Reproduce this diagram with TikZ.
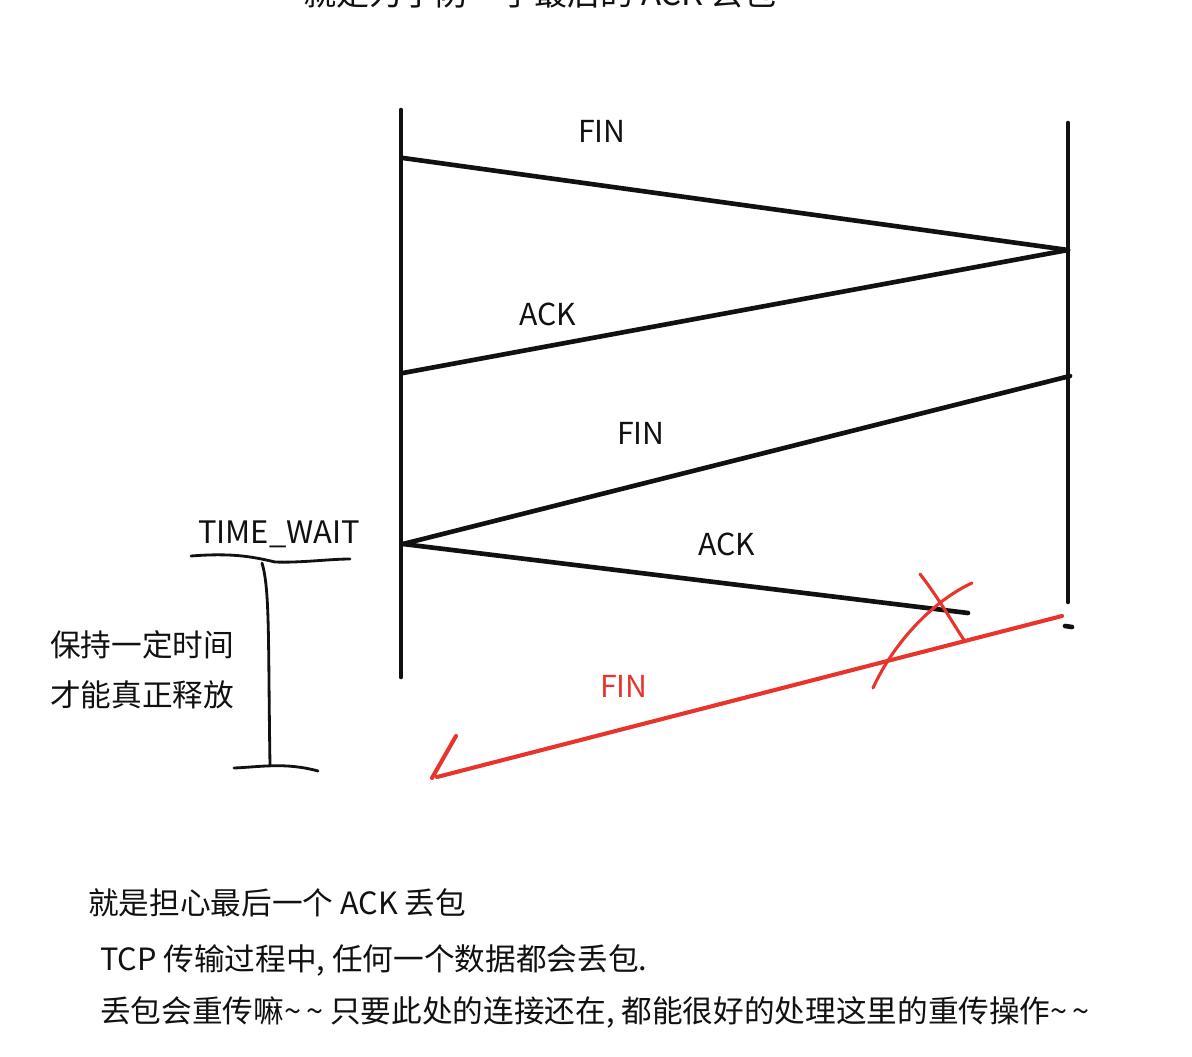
\documentclass[tikz,border=0pt]{standalone}
\usepackage{fontspec}
\setmainfont{Noto Sans CJK SC}
\usepackage{tikz}
\usetikzlibrary{arrows.meta,positioning,calc}
\definecolor{Ink}{HTML}{111111}
\definecolor{MarkRed}{HTML}{E8352B}

\begin{document}
\begin{tikzpicture}[
    x=0.025cm,y=-0.025cm,
    wire/.style={draw=Ink,line width=3.3pt,line cap=round},
    redwire/.style={draw=MarkRed,line width=2.9pt,line cap=round},
    hand/.style={draw=Ink,line width=2pt,line cap=round},
    lbl/.style={font=\fontsize{21.5}{25}\selectfont,inner sep=0pt,text=Ink},
    note/.style={font=\fontsize{21.8}{26}\selectfont,inner sep=0pt,anchor=west,text=Ink},
]
\useasboundingbox (0,0) rectangle (1192,1057);
\clip (0,0) rectangle (1192,1057);
\fill[white] (0,0) rectangle (1192,1057);
% time lines
\coordinate (lt) at (401,110);
\coordinate (lb) at (401,677);
\coordinate (rt) at (1068,123);
\coordinate (rb) at (1068,602);
\draw[wire] (lt) -- (lb);
\draw[wire] (rt) -- (rb);
\coordinate (dotl) at (1065,626);
\coordinate (dotr) at (1072,627);
\draw[wire] (dotl) -- (dotr);
% segments
\coordinate (a1) at (403,158);
\coordinate (b1) at (1068,250);
\coordinate (a2) at (403,373);
\coordinate (b2) at (1070,376);
\coordinate (a3) at (403,544);
\coordinate (b3) at (968,613);
\draw[wire] (a1) -- (b1);
\draw[wire] (b1) -- (a2);
\draw[wire] (b2) -- (a3);
\draw[wire] (a3) -- (b3);
\node[lbl] (fin1) at (602,131) {FIN};
\node[lbl] (ack1) at (548,314) {ACK};
\node[lbl] (fin2) at (641,433) {FIN};
\node[lbl] (ack2) at (727,544) {ACK};
% lost packet, resent FIN
\coordinate (r0) at (1062,616);
\coordinate (r1) at (437,777);
\coordinate (h0) at (432,778);
\coordinate (h1) at (456,736);
\draw[redwire] (r0) -- (r1);
\draw[redwire] (h0) -- (h1);
\node[lbl,text=MarkRed] (fin3) at (624,686) {FIN};
\coordinate (x1) at (920,574);
\coordinate (x2) at (964,640);
\coordinate (x3) at (972,583);
\coordinate (x4) at (873,688);
\draw[redwire,line width=2.2pt] (x1) .. controls (940,600) and (952,622) .. (x2);
\draw[redwire,line width=2.2pt] (x3) .. controls (935,600) and (895,640) .. (x4);
% TIME_WAIT span
\node[lbl,font=\fontsize{22}{26}\selectfont] (tw) at (279,534) {TIME\_WAIT};
\coordinate (u0) at (191,556);
\coordinate (u1) at (350,559);
\draw[hand] (u0) .. controls (230,553) and (250,556) .. (275,562) .. controls (300,563) and (330,559) .. (u1);
\coordinate (v0) at (262,563);
\coordinate (v1) at (270,765);
\draw[hand] (v0) .. controls (270,590) and (268,640) .. (v1);
\coordinate (w0) at (234,768);
\coordinate (w1) at (318,771);
\draw[hand] (w0) .. controls (260,767) and (285,762) .. (w1);
\node[note] (keep) at (50,645) {保持一定时间};
\node[note] (free) at (50,695) {才能真正释放};
% remarks
\node[note,anchor=center,font=\fontsize{23.5}{28}\selectfont] (top) at (540,-7) {就是为了防一手最后的 ACK 丢包};
\node[note] (m1) at (88,903) {就是担心最后一个 ACK 丢包};
\node[note] (m2) at (100,960) {TCP 传输过程中, 任何一个数据都会丢包.};
\node[note] (m3) at (100,1012) {丢包会重传嘛\textasciitilde\,\textasciitilde{} 只要此处的连接还在, 都能很好的处理这里的重传操作\textasciitilde\,\textasciitilde};
\end{tikzpicture}
\end{document}
